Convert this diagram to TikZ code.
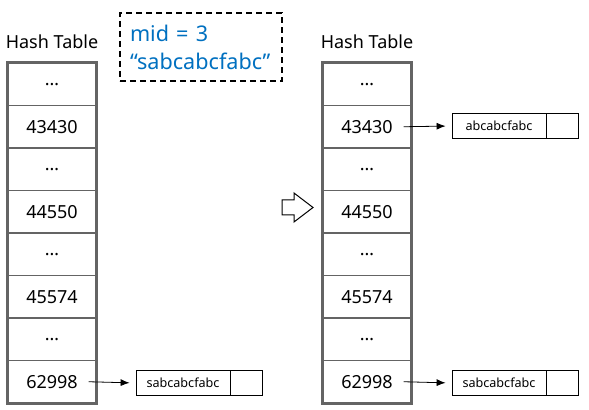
\documentclass[tikz,border=0pt]{standalone}
\usepackage{fontspec}
\setmainfont{Noto Sans}
\usetikzlibrary{arrows.meta, positioning, calc}

\definecolor{memoblue}{RGB}{0,112,192}
\definecolor{tablegray}{RGB}{100,100,100}

\tikzset{
  cell/.style={draw=tablegray, line width=0.6pt, minimum width=44pt, minimum height=21.25pt,
    inner sep=0pt, font=\fontsize{9}{10}\selectfont},
  frame/.style={draw=tablegray, line width=1pt},
  title/.style={font=\fontsize{9}{10}\selectfont},
  entry/.style={draw, line width=0.4pt, minimum width=47pt, minimum height=12.5pt,
    inner sep=0pt, font=\fontsize{6.3}{7}\selectfont},
  slot/.style={draw, line width=0.4pt, minimum width=16pt, minimum height=12.5pt, inner sep=0pt},
  ptr/.style={-{Latex[length=4.5pt,width=3.5pt]}, line width=0.4pt, shorten >=3pt},
  memo/.style={draw, dash pattern=on 3pt off 2pt, line width=1pt, minimum width=81pt,
    minimum height=34pt, align=left, text width=71pt, inner xsep=5pt, text=memoblue,
    font=\fontsize{10.8}{14}\selectfont},
}

\begin{document}
\begin{tikzpicture}[x=0.5pt, y=-0.5pt]
  \useasboundingbox (0,0) rectangle (589,410);
  % the two hash tables
  \foreach \t/\x in {l/52, r/367} {
    \foreach \v [count=\i] in {…,43430,…,44550,…,45574,…,62998}
      \node[cell] (\t\i) at (\x, {84.25+42.5*(\i-1)}) {\v};
    \draw[frame] (\t1.north west) rectangle (\t8.south east);
    \node[title] (title-\t) at (\x,42) {Hash Table};
  }
  % the string being inserted
  \node[memo] (memo) at (201,47) {mid = 3\\“sabcabcfabc”};
  % lists before
  \node[entry] (ls) at (183,383) {sabcabcfabc};
  \node[slot, right=0pt of ls] (ls-next) {};
  \draw[ptr] ([xshift=-4pt]l8.east) -- (ls.west);
  % step arrow
  \draw[line width=0.5pt, fill=white] (282,200) -- (294,200) -- (294,193) -- (313,207.5)
    -- (294,222) -- (294,215) -- (282,215) -- cycle;
  % lists after
  \node[entry] (rs1) at (499,126) {abcabcfabc};
  \node[slot, right=0pt of rs1] (rs1-next) {};
  \draw[ptr] ([xshift=-4pt]r2.east) -- (rs1.west);
  \node[entry] (rs2) at (499,383) {sabcabcfabc};
  \node[slot, right=0pt of rs2] (rs2-next) {};
  \draw[ptr] ([xshift=-4pt]r8.east) -- (rs2.west);
\end{tikzpicture}
\end{document}
